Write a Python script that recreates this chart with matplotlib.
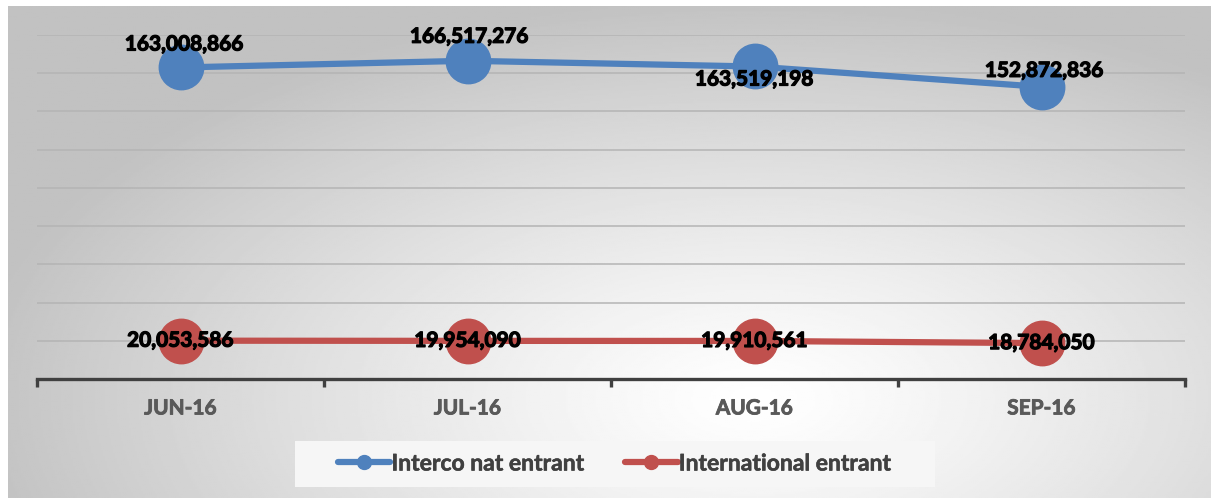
import numpy as np
import matplotlib.pyplot as plt
import matplotlib.patheffects as pe
from matplotlib.patches import Rectangle

# data
months = ["JUN-16", "JUL-16", "AUG-16", "SEP-16"]
interco = [163008866, 166517276, 163519198, 152872836]
international = [20053586, 19954090, 19910561, 18784050]
series_names = ["Interco nat entrant", "International entrant"]

# label offsets in pixels (dx, dy up) for the blue series, picked by eye
blue_offsets = [(4, 23), (2, 24), (0, -13), (3, 16)]

W, H = 1211, 498
fig = plt.figure(figsize=(W / 100, H / 100), dpi=100)
fig.patch.set_facecolor("white")

# radial grey background
bg = fig.add_axes([8 / W, 0, 1 - 8 / W, (H - 6) / H])
yy, xx = np.mgrid[0:1:300j, 0:1:600j]
r = np.sqrt(((xx - 0.62) / 0.72) ** 2 + ((yy - 0.8) / 0.9) ** 2)
shade = np.clip(1.0 - 0.27 * r ** 1.2, 0.76, 1.0)
bg.imshow(shade, cmap="gray", vmin=0, vmax=1, aspect="auto", extent=[0, 1, 0, 1])
bg.axis("off")

ax = fig.add_axes([37 / W, (H - 379) / H, (1185 - 37) / W, (379 - 35) / H])
ax.patch.set_alpha(0)
ax.set_xlim(-0.5, 3.5)
ax.set_ylim(0, 180e6)

for y in np.arange(20e6, 181e6, 20e6):
    ax.axhline(y, color="#b4b4b4", lw=1.1, zorder=1)

x = np.arange(len(months))
blue, red = "#4f81bd", "#c0504d"
ax.plot(x, interco, color=blue, lw=4.5, marker="o", ms=32, zorder=3)
ax.plot(x, international, color=red, lw=4.5, marker="o", ms=32, zorder=3)

font = "Lato"
heavy = [pe.withStroke(linewidth=0.9, foreground="black")]
for i, v in enumerate(interco):
    dx, dy = blue_offsets[i]
    ax.annotate(f"{v:,}", (x[i], v), xytext=(dx * 0.72, dy * 0.72),
                textcoords="offset points", ha="center", va="center",
                fontsize=15, fontweight="bold", family=font, color="black",
                path_effects=heavy, zorder=5)
for i, v in enumerate(international):
    ax.annotate(f"{v:,}", (x[i], v), xytext=(0, 0),
                textcoords="offset points", ha="center", va="center",
                fontsize=15, fontweight="bold", family=font, color="black",
                path_effects=heavy, zorder=5)

for s in ["top", "left", "right"]:
    ax.spines[s].set_visible(False)
ax.spines["bottom"].set_color("#404040")
ax.spines["bottom"].set_linewidth(2.4)
ax.set_yticks([])
ax.set_xticks(np.arange(-0.5, 3.6, 1))
ax.set_xticklabels([])
ax.tick_params(axis="x", which="major", length=6, width=2.4, color="#404040", direction="out")
ax.set_xticks(x, minor=True)
ax.set_xticklabels(months, minor=True, fontsize=15, fontweight="bold",
                   family=font, color="#595959")
for t in ax.get_xticklabels(minor=True):
    t.set_path_effects([pe.withStroke(linewidth=0.6, foreground="#595959")])
ax.tick_params(axis="x", which="minor", length=0, pad=14)

# legend box
fig.patches.append(Rectangle((295 / W, (H - 487) / H), 640 / W, 46 / H,
                             transform=fig.transFigure, facecolor="#f6f6f6",
                             edgecolor="none", zorder=0))
handles = [plt.Line2D([], [], color=blue, lw=4.5, marker="o", ms=10, solid_capstyle="round"),
           plt.Line2D([], [], color=red, lw=4.5, marker="o", ms=10, solid_capstyle="round")]
leg = fig.legend(handles, series_names, loc="center", bbox_to_anchor=(614 / W, (H - 464) / H),
                 ncol=2, frameon=False, handlelength=2.3, handletextpad=0.05,
                 columnspacing=1.8, borderaxespad=0,
                 prop={"family": font, "size": 16.5, "weight": "bold"})
for t in leg.get_texts():
    t.set_color("#404040")
    t.set_path_effects([pe.withStroke(linewidth=0.4, foreground="#404040")])

fig.savefig("out.png", dpi=100)
